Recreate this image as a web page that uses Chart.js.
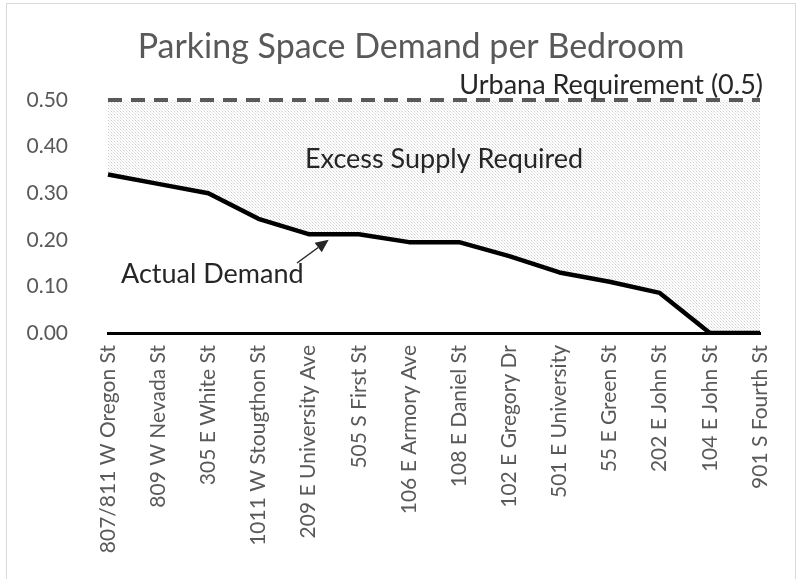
<!DOCTYPE html>
<html>
<head>
<meta charset="utf-8">
<script src="https://cdn.jsdelivr.net/npm/chart.js@4"></script>
<style>
  html, body { margin: 0; padding: 0; background: #ffffff; }
  #wrap { position: relative; width: 804px; height: 579px; }
  #frame { position: absolute; left: 6px; top: 3px; width: 790px; height: 580px; border: 1px solid #d9d9d9; box-sizing: border-box; }
  canvas { position: absolute; left: 0; top: 0; }
</style>
</head>
<body>
<div id="wrap">
  <div id="frame"></div>
  <canvas id="c" width="804" height="579"></canvas>
</div>
<script>
const categories = [
  "807/811 W Oregon St", "809 W Nevada St", "305 E White St", "1011 W Stougthon St",
  "209 E University Ave", "505 S First St", "106 E Armory Ave", "108 E Daniel St",
  "102 E Gregory Dr", "501 E University", "55 E Green St", "202 E John St",
  "104 E John St", "901 S Fourth St"
];
const actualDemand = [0.34, 0.32, 0.30, 0.245, 0.212, 0.212, 0.195, 0.195, 0.165, 0.13, 0.11, 0.086, 0.0, 0.0];
const urbanaRequirement = [0.5, 0.5, 0.5, 0.5, 0.5, 0.5, 0.5, 0.5, 0.5, 0.5, 0.5, 0.5, 0.5, 0.5];
const yTickValues = [0.0, 0.1, 0.2, 0.3, 0.4, 0.5];
const titleText = "Parking Space Demand per Bedroom";
const requirementLabel = "Urbana Requirement (0.5)";
const excessLabel = "Excess Supply Required";
const demandLabel = "Actual Demand";

const FONT = "Lato, 'Open Sans', sans-serif";
const GRAY = "#595959";
const DARK = "#262626";

// dotted pattern for the excess area
function makePattern() {
  const p = document.createElement("canvas");
  p.width = 3; p.height = 3;
  const g = p.getContext("2d");
  g.fillStyle = "#ffffff"; g.fillRect(0, 0, 3, 3);
  g.fillStyle = "#cccccc"; g.fillRect(0, 0, 1, 1);
  g.fillStyle = "#e8e8e8"; g.fillRect(1, 1, 1, 1); g.fillRect(2, 2, 1, 1);
  return document.getElementById("c").getContext("2d").createPattern(p, "repeat");
}

const annotations = {
  id: "annotations",
  afterDraw(chart) {
    const ctx = chart.ctx;
    const x = chart.scales.x, y = chart.scales.y;
    ctx.save();
    ctx.textBaseline = "alphabetic";
    // title
    ctx.fillStyle = GRAY;
    ctx.font = "34px " + FONT;
    ctx.textAlign = "center";
    ctx.fillText(titleText, 411, 58);
    // requirement label
    ctx.fillStyle = DARK;
    ctx.font = "27px " + FONT;
    ctx.textAlign = "right";
    ctx.fillText(requirementLabel, x.getPixelForValue(13) + 3, y.getPixelForValue(0.5) - 6);
    // excess label
    ctx.textAlign = "center";
    ctx.fillText(excessLabel, x.getPixelForValue(6.7), y.getPixelForValue(0.355));
    // demand label
    ctx.textAlign = "left";
    ctx.fillText(demandLabel, 121, y.getPixelForValue(0.107));
    // arrow
    const x0 = 297, y0 = 263;
    const x1 = x.getPixelForValue(4.4), y1 = y.getPixelForValue(0.2);
    ctx.strokeStyle = DARK; ctx.fillStyle = DARK;
    ctx.lineWidth = 1.5;
    const ang = Math.atan2(y1 - y0, x1 - x0);
    const hl = 13, hw = 6;
    const bx = x1 - hl * Math.cos(ang), by = y1 - hl * Math.sin(ang);
    ctx.beginPath(); ctx.moveTo(x0, y0); ctx.lineTo(bx, by); ctx.stroke();
    ctx.beginPath();
    ctx.moveTo(x1, y1);
    ctx.lineTo(bx + hw * Math.sin(ang), by - hw * Math.cos(ang));
    ctx.lineTo(bx - hw * Math.sin(ang), by + hw * Math.cos(ang));
    ctx.closePath(); ctx.fill();
    ctx.restore();
  }
};

new Chart(document.getElementById("c"), {
  type: "line",
  data: {
    labels: categories,
    datasets: [
      {
        label: "Actual Demand",
        data: actualDemand,
        borderColor: "#000000",
        borderWidth: 4.5,
        pointRadius: 0,
        tension: 0,
        fill: false,
        borderJoinStyle: "round"
      },
      {
        label: "Urbana Requirement",
        data: urbanaRequirement,
        borderColor: GRAY,
        borderWidth: 4,
        borderDash: [14, 9],
        pointRadius: 0,
        tension: 0,
        clip: false,
        fill: "-1",
        backgroundColor: makePattern()
      }
    ]
  },
  options: {
    responsive: false,
    animation: false,
    events: [],
    layout: { padding: { top: 100, left: 0, right: 44, bottom: 0 } },
    plugins: { legend: { display: false }, title: { display: false }, tooltip: { enabled: false } },
    scales: {
      x: {
        offset: false,
        grid: { display: false, drawTicks: false },
        border: { display: true, color: "#000000", width: 3 },
        afterFit(scale) { scale.height = 246; },
        ticks: {
          autoSkip: false, minRotation: 90, maxRotation: 90,
          color: GRAY, font: { family: FONT, size: 21 }, padding: 12
        }
      },
      y: {
        min: 0, max: 0.5,
        afterBuildTicks(scale) { scale.ticks = yTickValues.map(v => ({ value: v })); },
        afterFit(scale) { scale.width = 108; },
        grid: { display: false, drawTicks: false },
        border: { display: false },
        ticks: {
          color: GRAY, font: { family: FONT, size: 21 }, padding: 40,
          callback: v => Number(v).toFixed(2)
        }
      }
    }
  },
  plugins: [annotations]
});
</script>
</body>
</html>
